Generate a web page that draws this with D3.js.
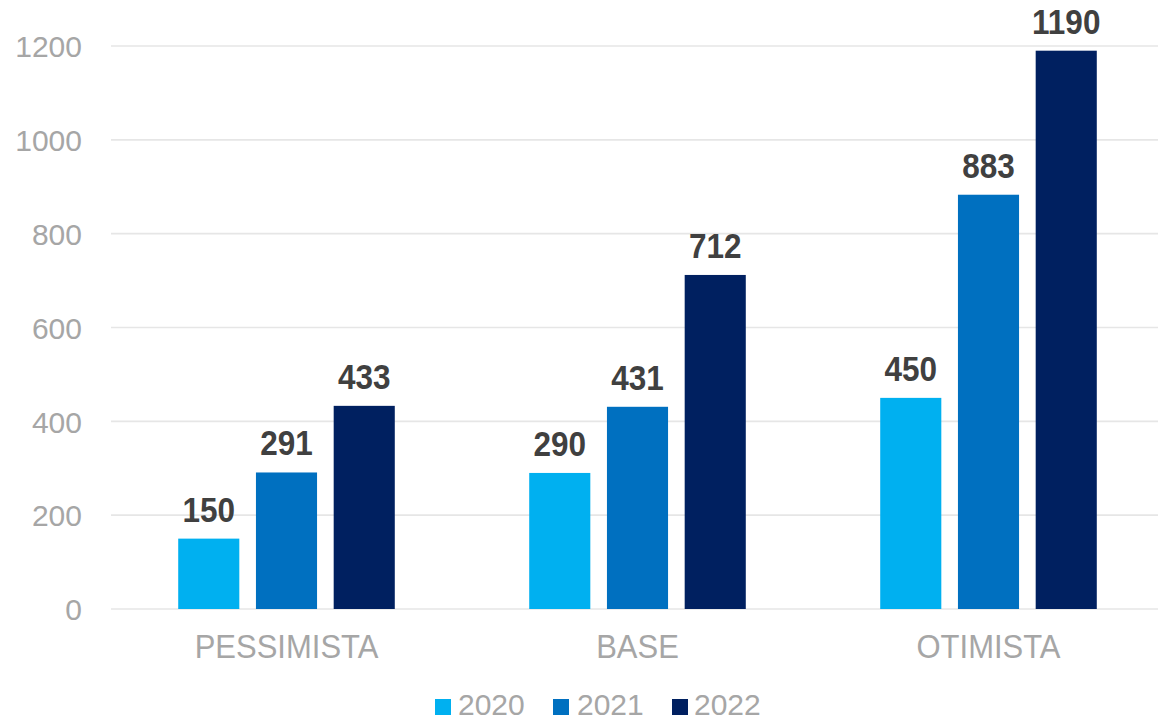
<!DOCTYPE html>
<html>
<head>
<meta charset="utf-8">
<script src="https://cdn.jsdelivr.net/npm/d3@7"></script>
<style>
  html, body { margin: 0; padding: 0; background: #fff; }
  svg { display: block; font-family: "Liberation Sans", Arial, sans-serif; }
</style>
</head>
<body>
<svg id="chart" width="1158" height="721"></svg>
<script>
// Scenario projections by year
const categories = ["PESSIMISTA", "BASE", "OTIMISTA"];
const years = ["2020", "2021", "2022"];
const values2020 = [150, 290, 450];
const values2021 = [291, 431, 883];
const values2022 = [433, 712, 1190];
const yTicks = [0, 200, 400, 600, 800, 1000, 1200];
const colors = ["#00B0F0", "#0070C0", "#002060"];

const seriesValues = [values2020, values2021, values2022];
const rows = categories.map((c, i) => ({
  category: c,
  values: years.map((y, j) => ({ year: y, value: seriesValues[j][i], color: colors[j] }))
}));

const svg = d3.select("#chart");

const x0 = d3.scaleBand()
  .domain(categories)
  .range([111, 1164])
  .paddingInner(0.383)
  .paddingOuter(0.1915);

const x1 = d3.scaleBand()
  .domain(years)
  .range([0, x0.bandwidth()])
  .paddingInner(0.214)
  .paddingOuter(0);

const y = d3.scaleLinear().domain([0, 1200]).range([609, 46]);

// Horizontal gridlines
svg.append("g")
  .selectAll("line")
  .data(yTicks)
  .join("line")
  .attr("x1", 111)
  .attr("x2", 1167)
  .attr("y1", d => y(d))
  .attr("y2", d => y(d))
  .attr("stroke", "#e6e6e6")
  .attr("stroke-width", 1.6);

// Y axis labels
const yAxis = d3.axisLeft(y).tickValues(yTicks).tickFormat(d3.format("d")).tickSize(0).tickPadding(0);
const yAxisG = svg.append("g").attr("transform", "translate(82,0)").call(yAxis);
yAxisG.select(".domain").remove();
yAxisG.selectAll("text")
  .attr("fill", "#a6a6a6")
  .attr("font-size", 30)
  .attr("font-family", "Liberation Sans, Arial, sans-serif")
  .attr("dy", "0.36em");

// Bars
const groups = svg.append("g")
  .selectAll("g")
  .data(rows)
  .join("g")
  .attr("transform", d => `translate(${x0(d.category)},0)`);

groups.selectAll("rect")
  .data(d => d.values)
  .join("rect")
  .attr("x", d => x1(d.year))
  .attr("y", d => y(d.value))
  .attr("width", x1.bandwidth())
  .attr("height", d => y(0) - y(d.value))
  .attr("fill", d => d.color);

// Value labels above bars
groups.selectAll("text")
  .data(d => d.values)
  .join("text")
  .attr("transform", d => `translate(${x1(d.year) + x1.bandwidth() / 2},${y(d.value) - 17}) scale(1,1.1)`)
  .attr("text-anchor", "middle")
  .attr("fill", "#404040")
  .attr("font-weight", "bold")
  .attr("font-size", 31.5)
  .text(d => d.value);

// Category labels
const xAxis = d3.axisBottom(x0).tickSize(0).tickPadding(0);
const xAxisG = svg.append("g").call(xAxis);
xAxisG.select(".domain").remove();
xAxisG.selectAll(".tick text")
  .attr("y", 0)
  .attr("dy", 0)
  .attr("fill", "#a6a6a6")
  .attr("font-size", 31)
  .attr("font-family", "Liberation Sans, Arial, sans-serif")
  .attr("transform", "translate(0,658) scale(1,1.1)");

// Legend
const legendItems = [
  { year: years[0], color: colors[0], sx: 435, tx: 458 },
  { year: years[1], color: colors[1], sx: 553, tx: 577 },
  { year: years[2], color: colors[2], sx: 672, tx: 694 }
];
const legend = svg.append("g");
legend.selectAll("rect")
  .data(legendItems)
  .join("rect")
  .attr("x", d => d.sx)
  .attr("y", 699)
  .attr("width", 16)
  .attr("height", 16)
  .attr("fill", d => d.color);
legend.selectAll("text")
  .data(legendItems)
  .join("text")
  .attr("x", d => d.tx)
  .attr("y", 715)
  .attr("fill", "#a6a6a6")
  .attr("font-size", 30)
  .text(d => d.year);
</script>
</body>
</html>
